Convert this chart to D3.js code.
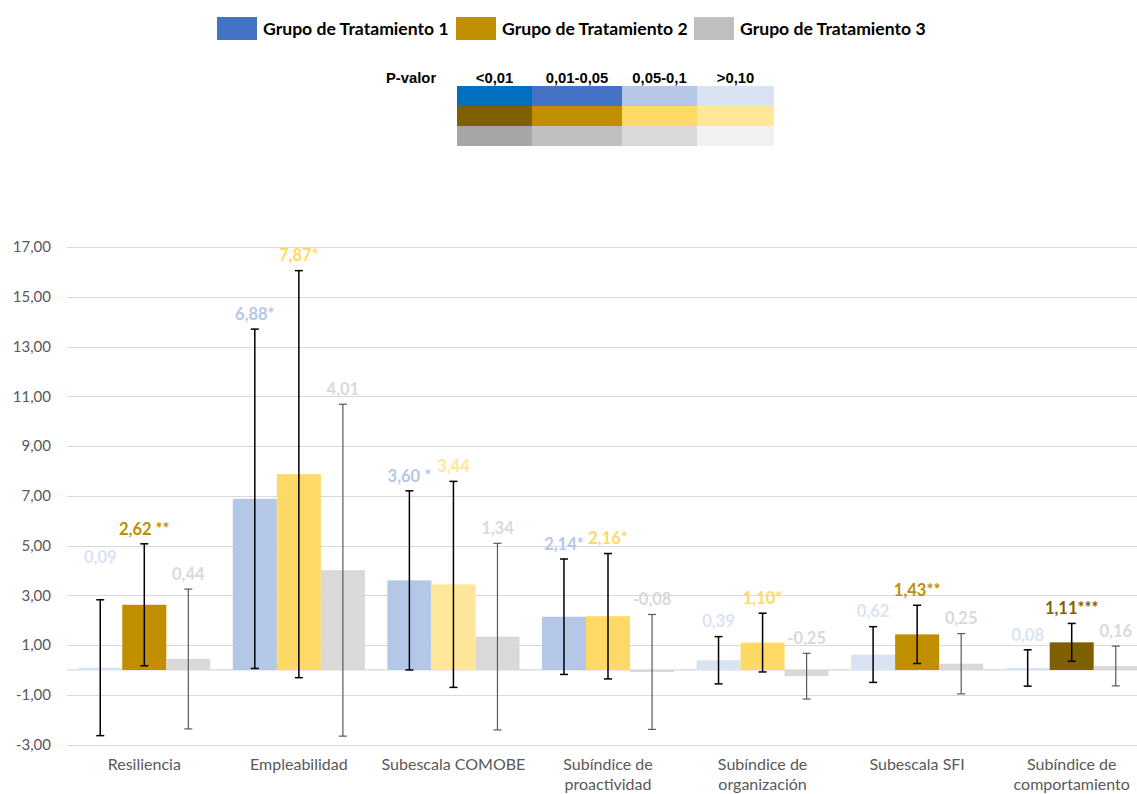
<!DOCTYPE html>
<html>
<head>
<meta charset="utf-8">
<script src="https://cdn.jsdelivr.net/npm/d3@7/dist/d3.min.js"></script>
<style>
  html, body { margin: 0; padding: 0; background: #fff; }
  svg { display: block; }
</style>
</head>
<body>
<svg id="chart" width="1137" height="794"></svg>
<script>
// ---- data ----
const categories = ["Resiliencia", "Empleabilidad", "Subescala COMOBE", "Subíndice de proactividad",
                    "Subíndice de organización", "Subescala SFI", "Subíndice de comportamiento"];
const groups = ["Grupo de Tratamiento 1", "Grupo de Tratamiento 2", "Grupo de Tratamiento 3"];

const g1Values = [0.09, 6.88, 3.60, 2.14, 0.39, 0.62, 0.08];
const g2Values = [2.62, 7.87, 3.44, 2.16, 1.10, 1.43, 1.11];
const g3Values = [0.44, 4.01, 1.34, -0.08, -0.25, 0.25, 0.16];

// half-width of the confidence interval drawn as error bar
const g1Errors = [2.73, 6.82, 3.60, 2.32, 0.95, 1.12, 0.73];
const g2Errors = [2.45, 8.18, 4.14, 2.52, 1.18, 1.17, 0.76];
const g3Errors = [2.81, 6.67, 3.75, 2.31, 0.92, 1.21, 0.80];

// significance marks appended to each value label
const g1Stars = ["", "*", " *", "*", "", "", ""];
const g2Stars = [" **", "*", "", "*", "*", "**", "***"];
const g3Stars = ["", "", "", "", "", "", ""];

// p-value band of each bar: 0 "<0,01", 1 "0,01-0,05", 2 "0,05-0,1", 3 ">0,10"
const g1Levels = [3, 2, 2, 2, 3, 3, 3];
const g2Levels = [1, 2, 3, 2, 2, 1, 0];
const g3Levels = [2, 2, 2, 2, 2, 2, 2];

const pHeaders = ["<0,01", "0,01-0,05", "0,05-0,1", ">0,10"];
const yTicks = [-3, -1, 1, 3, 5, 7, 9, 11, 13, 15, 17];

// ---- styling ----
const palettes = [
  ["#0070C0", "#4472C4", "#B4C7E7", "#DAE3F3"],
  ["#7F6000", "#BF8F00", "#FFD966", "#FFE699"],
  ["#A6A6A6", "#BFBFBF", "#D9D9D9", "#F2F2F2"]
];
const errColors = ["#000000", "#000000", "#595959"];
const errWidths = [1.5, 1.5, 1.2];
const axisFont = "Lato, 'Open Sans', sans-serif";
const keyFont = "'Liberation Sans', Arial, sans-serif";

const values = [g1Values, g2Values, g3Values];
const errors = [g1Errors, g2Errors, g3Errors];
const stars = [g1Stars, g2Stars, g3Stars];
const levels = [g1Levels, g2Levels, g3Levels];

const locale = d3.formatLocale({decimal: ",", thousands: ".", grouping: [3], currency: ["", "€"], minus: "-"});
const fmt = locale.format(".2f");

const svg = d3.select("#chart");
const W = 1137;

// ---- scales ----
const plot = {left: 67, right: 1149, top: 247, bottom: 744.6};
const y = d3.scaleLinear().domain([-3, 17]).range([plot.bottom, plot.top]);
const x0 = d3.scaleBand().domain(categories).range([plot.left, plot.right]).padding(0);
const x1 = d3.scaleBand().domain(d3.range(groups.length)).range([0, x0.bandwidth()])
  .paddingInner(0).paddingOuter(0.255);

// ---- gridlines ----
const gridG = svg.append("g");
gridG.selectAll("line").data(yTicks).join("line")
  .attr("x1", plot.left).attr("x2", W)
  .attr("y1", d => Math.round(y(d)) + 0.5).attr("y2", d => Math.round(y(d)) + 0.5)
  .attr("stroke", "#D9D9D9").attr("stroke-width", 1.2);

// y axis labels
const yAxis = d3.axisLeft(y).tickValues(yTicks).tickSize(0).tickPadding(0)
  .tickFormat(d => fmt(d));
const yG = svg.append("g").attr("transform", `translate(${51},0)`).call(yAxis);
yG.select(".domain").remove();
yG.selectAll("text").attr("font-family", axisFont).attr("font-size", 15)
  .attr("fill", "#595959");

// ---- bars ----
const rows = [];
categories.forEach((c, i) => {
  groups.forEach((g, k) => {
    rows.push({cat: c, ci: i, k, v: values[k][i], e: errors[k][i], s: stars[k][i], lvl: levels[k][i]});
  });
});

// category axis line at zero
svg.append("line")
  .attr("x1", plot.left).attr("x2", W)
  .attr("y1", y(0)).attr("y2", y(0))
  .attr("stroke", "#D9D9D9").attr("stroke-width", 1.2);

const barG = svg.append("g");
barG.selectAll("rect").data(rows).join("rect")
  .attr("x", d => x0(d.cat) + x1(d.k))
  .attr("width", x1.bandwidth())
  .attr("y", d => y(Math.max(0, d.v)))
  .attr("height", d => Math.abs(y(d.v) - y(0)))
  .attr("fill", d => palettes[d.k][d.lvl]);

// ---- error bars ----
const cap = 4;
const errG = svg.append("g");
rows.forEach(d => {
  const cx = x0(d.cat) + x1(d.k) + x1.bandwidth() / 2;
  const yt = y(d.v + d.e), yb = y(d.v - d.e);
  const g = errG.append("g").attr("stroke", errColors[d.k]).attr("stroke-width", errWidths[d.k]);
  g.append("line").attr("x1", cx).attr("x2", cx).attr("y1", yt).attr("y2", yb);
  g.append("line").attr("x1", cx - cap).attr("x2", cx + cap).attr("y1", yt).attr("y2", yt);
  g.append("line").attr("x1", cx - cap).attr("x2", cx + cap).attr("y1", yb).attr("y2", yb);
});

// ---- value labels ----
const extraLift = {"Resiliencia|0": 28};
svg.append("g").selectAll("text").data(rows).join("text")
  .attr("x", d => x0(d.cat) + x1(d.k) + x1.bandwidth() / 2)
  .attr("y", d => y(d.v + d.e) - 15 - (extraLift[d.cat + "|" + d.k] || 0))
  .attr("dy", "0.35em")
  .attr("text-anchor", "middle")
  .attr("font-family", axisFont).attr("font-weight", 700).attr("font-size", 16.5)
  .attr("fill", d => palettes[d.k][d.lvl])
  .text(d => fmt(d.v) + d.s);

// ---- category labels (wrapped to band width) ----
const xAxis = d3.axisBottom(x0).tickSize(0).tickPadding(0);
const xG = svg.append("g").attr("transform", `translate(0,${759})`).call(xAxis);
xG.select(".domain").remove();
xG.selectAll("text").attr("font-family", axisFont).attr("font-size", 16).attr("fill", "#595959")
  .each(function(d) {
    const t = d3.select(this);
    const words = d.split(" ");
    t.text(null);
    let line = [];
    let tspan = t.append("tspan").attr("x", 0).attr("dy", "0.71em");
    for (const w of words) {
      line.push(w);
      tspan.text(line.join(" "));
      if (tspan.node().getComputedTextLength() > x0.bandwidth() - 4 && line.length > 1) {
        line.pop();
        tspan.text(line.join(" "));
        line = [w];
        tspan = t.append("tspan").attr("x", 0).attr("dy", "1.25em").text(w);
      }
    }
  });
xG.selectAll("text").attr("dy", null);

// ---- series legend ----
const legendSwatch = [palettes[0][1], palettes[1][1], palettes[2][1]];
const legendX = [217, 456, 694];
const lg = svg.append("g");
groups.forEach((g, k) => {
  lg.append("rect").attr("x", legendX[k]).attr("y", 17).attr("width", 40).attr("height", 23)
    .attr("fill", legendSwatch[k]);
  lg.append("text").attr("x", legendX[k] + 46).attr("y", 29).attr("dy", "0.35em")
    .attr("font-family", axisFont).attr("font-weight", 700).attr("font-size", 17.6)
    .attr("fill", "#000").text(g);
});

// ---- p-value colour key ----
const colEdges = [457, 532, 622, 697, 774];
const rowEdges = [86, 106, 126, 146];
const key = svg.append("g");
key.append("text").attr("x", 386).attr("y", 77.5).attr("dy", "0.35em")
  .attr("font-family", keyFont).attr("font-weight", 700)
  .attr("font-size", 14.8).text("P-valor");
pHeaders.forEach((h, j) => {
  key.append("text").attr("x", (colEdges[j] + colEdges[j + 1]) / 2).attr("y", 77.5).attr("dy", "0.35em")
    .attr("text-anchor", "middle")
    .attr("font-family", keyFont).attr("font-weight", 700)
    .attr("font-size", 14.8).text(h);
});
palettes.forEach((pal, r) => {
  pal.forEach((c, j) => {
    key.append("rect").attr("x", colEdges[j]).attr("y", rowEdges[r])
      .attr("width", colEdges[j + 1] - colEdges[j]).attr("height", rowEdges[r + 1] - rowEdges[r])
      .attr("fill", c);
  });
});
</script>
</body>
</html>
